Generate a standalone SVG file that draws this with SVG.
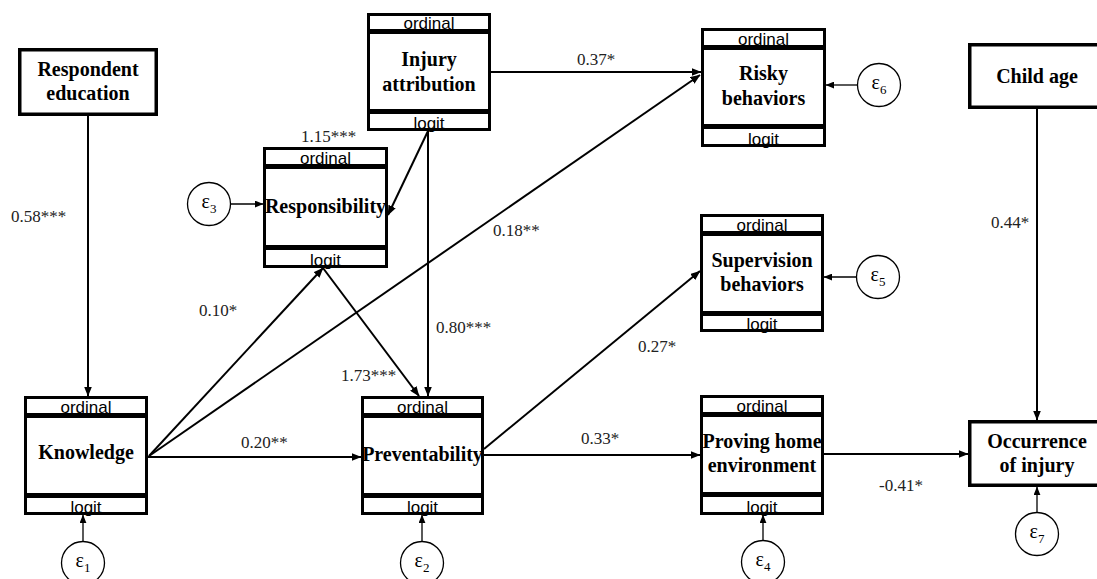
<svg xmlns="http://www.w3.org/2000/svg" width="1097" height="579" viewBox="0 0 1097 579">
<style>
.bg{fill:#fff}
.frame{fill:none;stroke:#000;stroke-width:3}
.sframe{fill:#fff;stroke:#000;stroke-width:3.5}
.bar{fill:#000}
.tag{font-size:17px;text-anchor:middle;fill:#000}
.lbl{font-weight:bold;font-size:20px;text-anchor:middle;fill:#000}
.coef{font-size:17px;fill:#222}
.err circle{fill:#fff;stroke:#000;stroke-width:1.3}
.eps{font-size:20px;text-anchor:middle;fill:#000}
.conn line{stroke:#000;stroke-width:2;fill:none;marker-end:url(#ah)}
.conn line.thin{stroke-width:1.3;marker-end:url(#ahs)}
</style>
<defs>
<marker id="ah" markerUnits="userSpaceOnUse" viewBox="0 0 10 8" markerWidth="10" markerHeight="8" refX="9.5" refY="4" orient="auto"><path d="M0,0 L10,4 L0,8 z" fill="#000"/></marker>
<marker id="ahs" markerUnits="userSpaceOnUse" viewBox="0 0 10 8" markerWidth="9" markerHeight="7" refX="9.5" refY="4" orient="auto"><path d="M0,0 L10,4 L0,8 z" fill="#000"/></marker>
</defs>
<rect width="1097" height="579" fill="#fff"/>

<g id="connectors" class="conn">
<line x1="88" y1="116" x2="88" y2="396"/>
<line x1="1037" y1="109" x2="1037" y2="420"/>
<line x1="491" y1="72" x2="701" y2="72"/>
<line x1="428" y1="131" x2="388" y2="215"/>
<line x1="428" y1="131" x2="428" y2="396"/>
<line x1="149" y1="456" x2="323" y2="268"/>
<line x1="149" y1="456" x2="700" y2="75"/>
<line x1="148" y1="457" x2="361" y2="457"/>
<line x1="323" y1="268" x2="419" y2="396"/>
<line x1="484" y1="449" x2="700" y2="271"/>
<line x1="484" y1="455" x2="700" y2="455"/>
<line x1="824" y1="454" x2="968" y2="454"/>
<line class="thin" x1="83" y1="541" x2="83" y2="515"/>
<line class="thin" x1="422" y1="541" x2="422" y2="515"/>
<line class="thin" x1="763" y1="540" x2="763" y2="515"/>
<line class="thin" x1="1037" y1="512" x2="1037" y2="487"/>
<line class="thin" x1="230.5" y1="204" x2="263" y2="204"/>
<line class="thin" x1="857.5" y1="85" x2="826" y2="85"/>
<line class="thin" x1="856.5" y1="277" x2="824" y2="277"/>
</g>

<g id="coefficients" font-family="Liberation Serif, DejaVu Serif, serif">
<text class="coef" x="11" y="222">0.58***</text>
<text class="coef" x="301" y="142">1.15***</text>
<text class="coef" x="493" y="236">0.18**</text>
<text class="coef" x="199" y="316">0.10*</text>
<text class="coef" x="436" y="333">0.80***</text>
<text class="coef" x="341" y="381">1.73***</text>
<text class="coef" x="241" y="448">0.20**</text>
<text class="coef" x="577" y="65">0.37*</text>
<text class="coef" x="991" y="228">0.44*</text>
<text class="coef" x="638" y="352">0.27*</text>
<text class="coef" x="581" y="444">0.33*</text>
<text class="coef" x="879" y="491">-0.41*</text>
</g>

<g id="nodes">
<g id="respondent-education" font-family="Liberation Serif, DejaVu Serif, serif">
<rect class="sframe" x="19.75" y="49.75" width="136.5" height="64.5"/>
<text class="lbl" x="88" y="76">Respondent</text>
<text class="lbl" x="88" y="100">education</text>
</g>

<g id="child-age" font-family="Liberation Serif, DejaVu Serif, serif">
<rect class="sframe" x="969.75" y="44.75" width="136.5" height="62.5"/>
<text class="lbl" x="1037" y="83">Child age</text>
</g>

<g id="occurrence-of-injury" font-family="Liberation Serif, DejaVu Serif, serif">
<rect class="sframe" x="969.75" y="421.75" width="136.5" height="63.5"/>
<text class="lbl" x="1037" y="448">Occurrence</text>
<text class="lbl" x="1037" y="472">of injury</text>
</g>

<g id="injury-attribution" font-family="Liberation Serif, DejaVu Serif, serif">
<rect class="bg" x="367" y="13" width="124" height="118"/>
<rect class="bar" x="367" y="29" width="124" height="5"/>
<rect class="bar" x="367" y="109" width="124" height="5"/>
<text class="tag" font-family="Liberation Sans, Arial, sans-serif" x="429" y="28.5">ordinal</text>
<text class="tag" font-family="Liberation Sans, Arial, sans-serif" x="429" y="128.5">logit</text>
<text class="lbl" x="429" y="66">Injury</text>
<text class="lbl" x="429" y="91">attribution</text>
<rect class="frame" x="368.5" y="14.5" width="121" height="115"/>
</g>

<g id="responsibility" font-family="Liberation Serif, DejaVu Serif, serif">
<rect class="bg" x="263" y="147" width="125" height="121"/>
<rect class="bar" x="263" y="164" width="125" height="5"/>
<rect class="bar" x="263" y="245" width="125" height="5"/>
<text class="tag" font-family="Liberation Sans, Arial, sans-serif" x="325.5" y="163.5">ordinal</text>
<text class="tag" font-family="Liberation Sans, Arial, sans-serif" x="325.5" y="265.5">logit</text>
<text class="lbl" x="325.5" y="213">Responsibility</text>
<rect class="frame" x="264.5" y="148.5" width="122" height="118"/>
</g>

<g id="risky-behaviors" font-family="Liberation Serif, DejaVu Serif, serif">
<rect class="bg" x="701" y="28" width="125" height="119"/>
<rect class="bar" x="701" y="45" width="125" height="5"/>
<rect class="bar" x="701" y="124" width="125" height="5"/>
<text class="tag" font-family="Liberation Sans, Arial, sans-serif" x="763.5" y="44.5">ordinal</text>
<text class="tag" font-family="Liberation Sans, Arial, sans-serif" x="763.5" y="144.5">logit</text>
<text class="lbl" x="763.5" y="80">Risky</text>
<text class="lbl" x="763.5" y="104.5">behaviors</text>
<rect class="frame" x="702.5" y="29.5" width="122" height="116"/>
</g>

<g id="supervision-behaviors" font-family="Liberation Serif, DejaVu Serif, serif">
<rect class="bg" x="700" y="214" width="124" height="118"/>
<rect class="bar" x="700" y="231" width="124" height="5"/>
<rect class="bar" x="700" y="311" width="124" height="5"/>
<text class="tag" font-family="Liberation Sans, Arial, sans-serif" x="762" y="230.5">ordinal</text>
<text class="tag" font-family="Liberation Sans, Arial, sans-serif" x="762" y="329.5">logit</text>
<text class="lbl" x="762" y="267">Supervision</text>
<text class="lbl" x="762" y="290.5">behaviors</text>
<rect class="frame" x="701.5" y="215.5" width="121" height="115"/>
</g>

<g id="knowledge" font-family="Liberation Serif, DejaVu Serif, serif">
<rect class="bg" x="24" y="396" width="124" height="119"/>
<rect class="bar" x="24" y="413" width="124" height="5"/>
<rect class="bar" x="24" y="493" width="124" height="5"/>
<text class="tag" font-family="Liberation Sans, Arial, sans-serif" x="86" y="412.5">ordinal</text>
<text class="tag" font-family="Liberation Sans, Arial, sans-serif" x="86" y="512.5">logit</text>
<text class="lbl" x="86" y="459">Knowledge</text>
<rect class="frame" x="25.5" y="397.5" width="121" height="116"/>
</g>

<g id="preventability" font-family="Liberation Serif, DejaVu Serif, serif">
<rect class="bg" x="361" y="396" width="123" height="119"/>
<rect class="bar" x="361" y="413" width="123" height="5"/>
<rect class="bar" x="361" y="493" width="123" height="5"/>
<text class="tag" font-family="Liberation Sans, Arial, sans-serif" x="422.5" y="412.5">ordinal</text>
<text class="tag" font-family="Liberation Sans, Arial, sans-serif" x="422.5" y="512.5">logit</text>
<text class="lbl" x="422.5" y="461">Preventability</text>
<rect class="frame" x="362.5" y="397.5" width="120" height="116"/>
</g>

<g id="proving-home-environment" font-family="Liberation Serif, DejaVu Serif, serif">
<rect class="bg" x="700" y="395" width="124" height="120"/>
<rect class="bar" x="700" y="412" width="124" height="5"/>
<rect class="bar" x="700" y="492" width="124" height="5"/>
<text class="tag" font-family="Liberation Sans, Arial, sans-serif" x="762" y="411.5">ordinal</text>
<text class="tag" font-family="Liberation Sans, Arial, sans-serif" x="762" y="512.5">logit</text>
<text class="lbl" x="762" y="448">Proving home</text>
<text class="lbl" x="762" y="472">environment</text>
<rect class="frame" x="701.5" y="396.5" width="121" height="117"/>
</g>

<g id="e1" class="err" font-family="Liberation Serif, DejaVu Serif, serif"><circle cx="83" cy="563" r="21.5"/><text class="eps" x="83" y="567">ε<tspan font-size="13" dy="5">1</tspan></text></g>
<g id="e2" class="err" font-family="Liberation Serif, DejaVu Serif, serif"><circle cx="422" cy="563" r="21.5"/><text class="eps" x="422" y="567">ε<tspan font-size="13" dy="5">2</tspan></text></g>
<g id="e3" class="err" font-family="Liberation Serif, DejaVu Serif, serif"><circle cx="209" cy="204" r="21.5"/><text class="eps" x="209" y="208">ε<tspan font-size="13" dy="5">3</tspan></text></g>
<g id="e4" class="err" font-family="Liberation Serif, DejaVu Serif, serif"><circle cx="763" cy="562" r="21.5"/><text class="eps" x="763" y="566">ε<tspan font-size="13" dy="5">4</tspan></text></g>
<g id="e5" class="err" font-family="Liberation Serif, DejaVu Serif, serif"><circle cx="878" cy="277" r="21.5"/><text class="eps" x="878" y="281">ε<tspan font-size="13" dy="5">5</tspan></text></g>
<g id="e6" class="err" font-family="Liberation Serif, DejaVu Serif, serif"><circle cx="879" cy="85" r="21.5"/><text class="eps" x="879" y="89">ε<tspan font-size="13" dy="5">6</tspan></text></g>
<g id="e7" class="err" font-family="Liberation Serif, DejaVu Serif, serif"><circle cx="1037" cy="534" r="21.5"/><text class="eps" x="1037" y="538">ε<tspan font-size="13" dy="5">7</tspan></text></g>
</g>
</svg>
